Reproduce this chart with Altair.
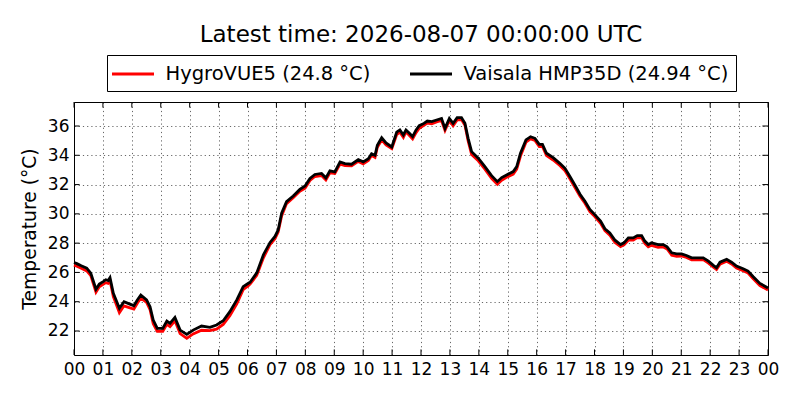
import json
import altair as alt
import pandas as pd

# ---- data ----
hours = [
    0.0, 0.1, 0.25, 0.44, 0.58, 0.76, 0.875, 1.01, 1.1, 1.18,
    1.245, 1.36, 1.57, 1.73, 1.91, 2.07, 2.19, 2.31, 2.51, 2.63,
    2.74, 2.88, 3.07, 3.21, 3.32, 3.49, 3.67, 3.9, 4.12, 4.41,
    4.7, 4.93, 5.16, 5.39, 5.63, 5.85, 6.03, 6.09, 6.32, 6.55,
    6.78, 6.95, 7.06, 7.18, 7.35, 7.58, 7.81, 7.99, 8.16, 8.33,
    8.56, 8.71, 8.85, 9.02, 9.2, 9.37, 9.6, 9.83, 10.0, 10.18,
    10.29, 10.41, 10.49, 10.64, 10.79, 10.99, 11.16, 11.27, 11.39, 11.48,
    11.6, 11.71, 11.83, 11.94, 12.1, 12.22, 12.37, 12.54, 12.71, 12.83,
    12.98, 13.11, 13.25, 13.4, 13.52, 13.63, 13.75, 13.98, 14.21, 14.44,
    14.64, 14.79, 14.96, 15.19, 15.31, 15.44, 15.63, 15.79, 15.94, 16.09,
    16.2, 16.34, 16.57, 16.8, 16.98, 17.15, 17.32, 17.5, 17.67, 17.84,
    18.01, 18.21, 18.36, 18.53, 18.71, 18.9, 19.02, 19.17, 19.34, 19.48,
    19.63, 19.74, 19.86, 19.97, 20.2, 20.38, 20.51, 20.67, 20.84, 21.01,
    21.18, 21.36, 21.53, 21.76, 21.94, 22.11, 22.22, 22.34, 22.57, 22.74,
    22.91, 23.14, 23.31, 23.49, 23.72, 24.0,
]

vaisala = [
    26.68, 26.6, 26.45, 26.29, 25.95, 24.85, 25.2, 25.37, 25.5, 25.45,
    25.65, 24.58, 23.55, 24.0, 23.85, 23.73, 24.12, 24.46, 24.12, 23.66,
    22.75, 22.18, 22.18, 22.68, 22.52, 22.93, 22.06, 21.77, 22.06, 22.34,
    22.25, 22.41, 22.7, 23.32, 24.12, 25.03, 25.26, 25.33, 25.97, 27.21,
    28.05, 28.46, 28.9, 30.04, 30.83, 31.22, 31.67, 31.9, 32.42, 32.69,
    32.76, 32.46, 32.94, 32.87, 33.55, 33.43, 33.39, 33.71, 33.55, 33.77,
    34.11, 34.0, 34.68, 35.2, 34.84, 34.57, 35.58, 35.73, 35.39, 35.73,
    35.5, 35.27, 35.73, 36.02, 36.18, 36.34, 36.3, 36.41, 36.52, 35.84,
    36.52, 36.18, 36.57, 36.57, 36.18, 35.16, 34.25, 33.8, 33.23, 32.61,
    32.2, 32.48, 32.66, 32.89, 33.23, 34.14, 35.05, 35.27, 35.16, 34.75,
    34.75, 34.14, 33.84, 33.45, 33.11, 32.55, 31.98, 31.34, 30.86, 30.3,
    29.95, 29.5, 28.98, 28.7, 28.2, 27.9, 28.02, 28.36, 28.36, 28.52,
    28.52, 28.14, 27.9, 28.02, 27.9, 27.9, 27.75, 27.34, 27.27, 27.27,
    27.16, 27.0, 27.0, 27.0, 26.77, 26.48, 26.32, 26.7, 26.89, 26.7,
    26.43, 26.25, 26.09, 25.7, 25.25, 24.94,
]

hygrovue = [
    26.5, 26.42, 26.28, 26.1, 25.78, 24.65, 25.02, 25.18, 25.3, 25.25,
    25.45, 24.35, 23.25, 23.72, 23.6, 23.5, 23.9, 24.25, 23.95, 23.45,
    22.5, 21.98, 21.98, 22.45, 22.3, 22.7, 21.82, 21.5, 21.8, 22.05,
    22.02, 22.12, 22.45, 23.05, 23.85, 24.82, 25.1, 25.2, 25.8, 27.0,
    27.9, 28.3, 28.75, 29.85, 30.7, 31.1, 31.55, 31.75, 32.28, 32.55,
    32.62, 32.32, 32.8, 32.75, 33.4, 33.3, 33.28, 33.58, 33.42, 33.65,
    33.98, 33.85, 34.55, 35.05, 34.7, 34.45, 35.42, 35.58, 35.22, 35.6,
    35.35, 35.12, 35.55, 35.85, 36.05, 36.2, 36.15, 36.28, 36.38, 35.7,
    36.38, 36.02, 36.42, 36.44, 36.05, 34.98, 34.05, 33.62, 33.05, 32.42,
    32.02, 32.3, 32.5, 32.72, 33.05, 33.95, 34.9, 35.12, 35.02, 34.6,
    34.6, 33.98, 33.68, 33.3, 32.95, 32.4, 31.82, 31.2, 30.72, 30.15,
    29.82, 29.36, 28.85, 28.55, 28.05, 27.76, 27.88, 28.2, 28.2, 28.38,
    28.36, 27.98, 27.75, 27.85, 27.72, 27.74, 27.6, 27.18, 27.1, 27.12,
    27.02, 26.86, 26.86, 26.88, 26.64, 26.36, 26.2, 26.56, 26.76, 26.58,
    26.3, 26.12, 25.96, 25.56, 25.1, 24.8,
]

series_names = ["HygroVUE5 (24.8 °C)", "Vaisala HMP35D (24.94 °C)"]
series_colors = ["#ff0000", "#000000"]
y_ticks = [22, 24, 26, 28, 30, 32, 34, 36]
x_ticks = list(range(25))
x_labels = ["00", "01", "02", "03", "04", "05", "06", "07", "08", "09", "10", "11",
            "12", "13", "14", "15", "16", "17", "18", "19", "20", "21", "22", "23", "00"]
title_text = "Latest time: 2026-08-07 00:00:00 UTC"
y_title = "Temperature (°C)"

assert len(hours) == len(vaisala) == len(hygrovue)

n = len(hours)
df = pd.DataFrame({
    "hour": hours + hours,
    "temp": hygrovue + vaisala,
    "series": [series_names[0]] * n + [series_names[1]] * n,
})
yt = pd.DataFrame({"hour": [0] * len(y_ticks), "temp": y_ticks})
xt = pd.DataFrame({"hour": x_ticks, "temp": [30] * len(x_ticks)})

# ---- layout ----
W, H = 694, 253
TICK = 5.6
FONT = "DejaVu Sans"

x_scale = alt.Scale(domain=[0, 24], nice=False, zero=False)
y_scale = alt.Scale(domain=[20.36, 37.64], nice=False, zero=False)

x_axis = alt.Axis(values=x_ticks, labelExpr=json.dumps(x_labels) + "[datum.value]",
                  title=None, labelPadding=6, labelFontSize=17,
                  labelOverlap=False, labelFlush=False, labelBound=False)
y_axis = alt.Axis(values=y_ticks, format="d", title=y_title, labelPadding=5,
                  labelFontSize=17, labelOverlap=False, labelFlush=False,
                  titleFontSize=18.7, titleAngle=270,
                  titleX=-39, titleY=H / 2, titleAlign="center",
                  titleBaseline="alphabetic", titleFontWeight="normal",
                  titleFont=FONT, titleColor="black")

X = alt.X("hour:Q", scale=x_scale, axis=x_axis)
Y = alt.Y("temp:Q", scale=y_scale, axis=y_axis)

color = alt.Color(
    "series:N",
    scale=alt.Scale(domain=series_names, range=series_colors),
    legend=alt.Legend(
        title=None, orient="none", legendX=33, legendY=-47,
        direction="horizontal", symbolType="M-2.1,0H2.1", symbolSize=400,
        symbolOffset=7, symbolStrokeWidth=2.8, labelFont=FONT,
        labelFontSize=19.5, labelColor="black", labelLimit=600,
        labelOffset=21, columnPadding=33, padding=7.5,
        strokeColor="black", fillColor="white",
    ),
)

base = alt.Chart(df)
red_line = base.transform_filter(alt.datum.series == series_names[0]).mark_line(
    strokeWidth=2.8).encode(x=X, y=Y, color=color)
black_line = base.transform_filter(alt.datum.series == series_names[1]).mark_line(
    strokeWidth=2.8).encode(x=X, y=Y, color=color)

left_ticks = alt.Chart(yt).mark_rule(color="black", strokeWidth=1).encode(
    y=Y, x=alt.value(0), x2=alt.value(TICK))
right_ticks = alt.Chart(yt).mark_rule(color="black", strokeWidth=1).encode(
    y=Y, x=alt.value(W - TICK), x2=alt.value(W))
bottom_ticks = alt.Chart(xt).mark_rule(color="black", strokeWidth=1).encode(
    x=X, y=alt.value(H - TICK), y2=alt.value(H))
top_ticks = alt.Chart(xt).mark_rule(color="black", strokeWidth=1).encode(
    x=X, y=alt.value(0), y2=alt.value(TICK))

chart = alt.layer(
    left_ticks, right_ticks, bottom_ticks, top_ticks, red_line, black_line
).properties(
    width=W, height=H,
    padding={"left": 66, "top": 94, "right": 24, "bottom": 37},
    autosize=alt.AutoSizeParams(type="none"),
    background="white",
    title=alt.TitleParams(text=title_text, font=FONT, fontSize=23,
                          fontWeight="normal", color="black", anchor="middle",
                          baseline="alphabetic", offset=-10),
).configure_view(
    stroke="black", strokeWidth=1
).configure_axis(
    labelFont=FONT, labelColor="black", domain=False, ticks=False, tickSize=0,
    grid=True, gridColor="#000000", gridOpacity=0.75, gridWidth=0.8,
    gridDash=[1.2, 3],
)

chart.save("out.html", embed_options={"renderer": "svg", "actions": False})
